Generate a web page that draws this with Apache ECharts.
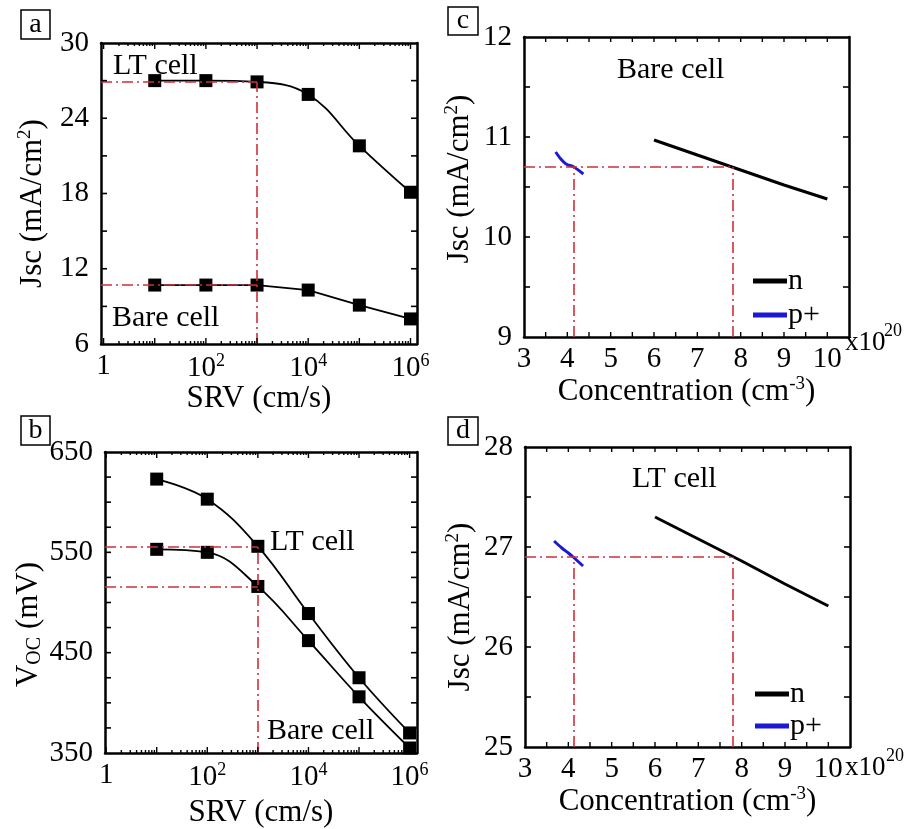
<!DOCTYPE html>
<html><head><meta charset="utf-8">
<script src="https://cdn.jsdelivr.net/npm/echarts@6/dist/echarts.min.js"></script>
<style>html,body{margin:0;padding:0;background:#fff}#c{width:917px;height:829px}</style>
</head><body><div id="c"></div>
<script>
// ---- data ----
const srv = [10, 100, 1000, 10000, 100000, 1000000];
const jscLT = [27.0, 27.0, 26.9, 25.9, 21.8, 18.1];
const jscBare = [10.7, 10.7, 10.7, 10.3, 9.1, 8.0];
const vocLT = [623, 603, 556, 489, 425, 370];
const vocBare = [553, 550, 516, 462, 406, 355];
const concN = [6, 7, 8, 9, 10];
const bareN = [10.97, 10.82, 10.67, 10.52, 10.38];
const concPc = [3.73, 3.85, 3.97, 4.15, 4.37];
const bareP = [10.85, 10.78, 10.73, 10.70, 10.63];
const ltN = [27.30, 27.08, 26.86, 26.63, 26.41];
const concPd = [3.67, 3.85, 4.0, 4.11, 4.34];
const ltP = [27.06, 26.99, 26.94, 26.90, 26.81];
const guideSRV = 1000;
const guideConcC = [4.15, 7.82];
const guideJscC = 10.7;
const guideConcD = [4.12, 7.79];
const guideJscD = 26.9;
const yTicksA = [6, 12, 18, 24, 30];
const yTicksB = [350, 450, 550, 650];

// ---- styling ----
const FF = '"Liberation Serif","Times New Roman",serif';
const RED = '#cf2f3a';
const guideStyle = {color: RED, width: 1.6, type: [11, 4, 2, 4]};
const zip = (xs, ys) => xs.map((x, i) => [x, ys[i]]);
const near = (a, b) => Math.abs(a - b) < 1e-6;

const gridsPx = [
  {left: 101, top: 43, width: 316, height: 301},
  {left: 105, top: 452, width: 312, height: 301},
  {left: 524, top: 37, width: 325, height: 300},
  {left: 525, top: 447, width: 325, height: 300}
];
const logMinA = 0.89, logMaxA = 1.34e6, logMinB = 0.95, logMaxB = 1.4e6;
// axis extents per panel: [xmin, xmax, ymin, ymax, yStep]
const ext = [
  [logMinA, logMaxA, 6, 30, 3],
  [logMinB, logMaxB, 350, 650, 25],
  [3, 10.5, 9, 12, 0.5],
  [3, 10.5, 25, 28, 0.5]
];

const richSup = {
  n: {fontSize: 29, fontFamily: FF, color: '#000'},
  sup: {fontSize: 18, fontFamily: FF, color: '#000', padding: [0, 0, 14, 0]}
};
function logLabel(v) {
  const e = Math.log10(v);
  if (!near(e, Math.round(e))) return '';
  const k = Math.round(e);
  if (k === 0) return '{n|1}';
  if (k % 2 !== 0) return '';
  return '{n|10}{sup|' + k + '}';
}
const mkLine = () => ({show: true, onZero: false, lineStyle: {color: '#000', width: 2.5}});
const noTick = () => ({show: false});
const lblBase = () => ({color: '#000', fontFamily: FF, fontSize: 29});
const nameStyle = (rich, padding) => ({fontFamily: FF, fontSize: 31, color: '#000', rich, padding});

function xLog(gi, min, max, name, nameGap) {
  return [
    {type: 'log', logBase: 10, gridIndex: gi, min, max, position: 'bottom',
     name, nameLocation: 'middle', nameGap, nameTextStyle: nameStyle(undefined, 0),
     axisLine: mkLine(), axisTick: noTick(), splitLine: {show: false},
     axisLabel: Object.assign(lblBase(), {margin: 8, formatter: logLabel, rich: richSup})},
    {type: 'log', logBase: 10, gridIndex: gi, min, max, position: 'top',
     axisLine: mkLine(), axisTick: noTick(), splitLine: {show: false}, axisLabel: {show: false}}
  ];
}
const concRich = {
  n: {fontFamily: FF, fontSize: 31, color: '#000'},
  sup: {fontFamily: FF, fontSize: 19, color: '#000', padding: [0, 0, 14, 0]}
};
function xLin(gi, name, nameGap) {
  return [
    {type: 'value', gridIndex: gi, min: 3, max: 10.5, interval: 0.5, position: 'bottom',
     name, nameLocation: 'middle', nameGap, nameTextStyle: nameStyle(concRich, 0),
     axisLine: mkLine(), axisTick: noTick(), splitLine: {show: false},
     axisLabel: Object.assign(lblBase(), {margin: 8,
       formatter: v => near(v, Math.round(v)) && v <= 10 ? String(Math.round(v)) : ''})},
    {type: 'value', gridIndex: gi, min: 3, max: 10.5, interval: 0.5, position: 'top',
     axisLine: mkLine(), axisTick: noTick(), splitLine: {show: false}, axisLabel: {show: false}}
  ];
}
function yLin(gi, min, max, interval, labelFn, name, nameGap, rich, padding) {
  return [
    {type: 'value', gridIndex: gi, min, max, interval, position: 'left',
     name, nameLocation: 'middle', nameGap, nameTextStyle: nameStyle(rich, padding),
     axisLine: mkLine(), axisTick: noTick(), splitLine: {show: false},
     axisLabel: Object.assign(lblBase(), {margin: 12, formatter: labelFn})},
    {type: 'value', gridIndex: gi, min, max, interval, position: 'right',
     axisLine: mkLine(), axisTick: noTick(), splitLine: {show: false}, axisLabel: {show: false}}
  ];
}
const jscRich = {
  n: {fontFamily: FF, fontSize: 31, color: '#000'},
  sup: {fontFamily: FF, fontSize: 19, color: '#000', padding: [0, 0, 14, 0]}
};
const vocRich = {
  n: {fontFamily: FF, fontSize: 31, color: '#000'},
  sub: {fontFamily: FF, fontSize: 20, color: '#000', padding: [12, 0, 0, 0]}
};
const jscName = '{n|Jsc (mA/cm}{sup|2}{n|)}';
const intLabel = v => near(v, Math.round(v)) ? String(Math.round(v)) : '';

const xAxes = [].concat(
  xLog(0, logMinA, logMaxA, 'SRV (cm/s)', 34),
  xLog(1, logMinB, logMaxB, 'SRV (cm/s)', 44),
  xLin(2, '{n|Concentration (cm}{sup|-3}{n|)}', 22),
  xLin(3, '{n|Concentration (cm}{sup|-3}{n|)}', 22)
);
const yAxes = [].concat(
  yLin(0, 6, 30, 3, v => yTicksA.includes(v) ? String(v) : '', jscName, 52, jscRich, [0, 20, 0, 0]),
  yLin(1, 350, 650, 25, v => yTicksB.includes(v) ? String(v) : '', '{n|V}{sub|OC}{n| (mV)}', 60, vocRich, [0, 44, 0, 0]),
  yLin(2, 9, 12, 0.5, intLabel, jscName, 48, jscRich, [0, 0, 0, 16]),
  yLin(3, 25, 28, 0.5, intLabel, jscName, 48, jscRich, [0, 20, 0, 0])
);

function seg(x1, y1, x2, y2) { return [{coord: [x1, y1]}, {coord: [x2, y2]}]; }
function guides(data) {
  return {silent: true, symbol: ['none', 'none'], label: {show: false}, lineStyle: guideStyle,
          emphasis: {disabled: true}, animation: false, data};
}
const gi = srv.indexOf(guideSRV);

function markerSeries(name, xi, data, smooth) {
  return {name, type: 'line', xAxisIndex: xi, yAxisIndex: xi, data, smooth,
    symbol: 'rect', symbolSize: 13, showSymbol: true,
    itemStyle: {color: '#000'}, lineStyle: {color: '#000', width: 1.8}, z: 3};
}
const series = [
  Object.assign(markerSeries('aLT', 0, zip(srv, jscLT), 0.4), {
    markLine: guides([
      seg(logMinA, jscLT[gi], guideSRV, jscLT[gi]),
      seg(guideSRV, 6, guideSRV, jscLT[gi]),
      seg(logMinA, jscBare[gi], guideSRV, jscBare[gi])
    ])}),
  markerSeries('aBare', 0, zip(srv, jscBare), false),
  Object.assign(markerSeries('bLT', 2, zip(srv, vocLT), 0.4), {
    markLine: guides([
      seg(logMinB, vocLT[gi], guideSRV, vocLT[gi]),
      seg(guideSRV, 350, guideSRV, vocLT[gi]),
      seg(logMinB, vocBare[gi], guideSRV, vocBare[gi])
    ])}),
  markerSeries('bBare', 2, zip(srv, vocBare), 0.4),
  {name: 'n', type: 'line', xAxisIndex: 4, yAxisIndex: 4, data: zip(concN, bareN), showSymbol: false,
   symbol: 'none', itemStyle: {color: '#000'}, lineStyle: {color: '#000', width: 3},
   markLine: guides([
     seg(3, guideJscC, guideConcC[1], guideJscC),
     seg(guideConcC[0], 9, guideConcC[0], guideJscC),
     seg(guideConcC[1], 9, guideConcC[1], guideJscC)
   ])},
  {name: 'p+', type: 'line', xAxisIndex: 4, yAxisIndex: 4, data: zip(concPc, bareP), smooth: 0.3, showSymbol: false,
   symbol: 'none', itemStyle: {color: '#1a1ad2'}, lineStyle: {color: '#1a1ad2', width: 3}},
  {name: 'n', type: 'line', xAxisIndex: 6, yAxisIndex: 6, data: zip(concN, ltN), showSymbol: false,
   symbol: 'none', itemStyle: {color: '#000'}, lineStyle: {color: '#000', width: 3},
   markLine: guides([
     seg(3, guideJscD, guideConcD[1], guideJscD),
     seg(guideConcD[0], 25, guideConcD[0], guideJscD),
     seg(guideConcD[1], 25, guideConcD[1], guideJscD)
   ])},
  {name: 'p+', type: 'line', xAxisIndex: 6, yAxisIndex: 6, data: zip(concPd, ltP), smooth: 0.3, showSymbol: false,
   symbol: 'none', itemStyle: {color: '#1a1ad2'}, lineStyle: {color: '#1a1ad2', width: 3}}
];

function txt(x, y, text, size) {
  return {type: 'text', x, y, silent: true,
    style: {text, font: size + 'px ' + FF, fill: '#000', textAlign: 'left', textVerticalAlign: 'middle'}};
}
function panelLabel(x, y, w, h, letter) {
  return [
    {type: 'rect', silent: true, shape: {x, y, width: w, height: h}, style: {fill: '#fff', stroke: '#000', lineWidth: 1.5}},
    {type: 'text', silent: true, x: x + w / 2, y: y + h / 2,
     style: {text: letter, font: '28px ' + FF, fill: '#000', textAlign: 'center', textVerticalAlign: 'middle'}}
  ];
}
const graphic = [].concat(
  panelLabel(21, 10, 29, 29, 'a'),
  panelLabel(21, 416, 29, 29, 'b'),
  panelLabel(448, 7, 30, 28, 'c'),
  panelLabel(448, 417, 30, 28, 'd'),
  [
    txt(113, 66, 'LT cell', 30),
    txt(112, 318, 'Bare cell', 30),
    txt(270, 542, 'LT cell', 30),
    txt(267, 731, 'Bare cell', 30),
    txt(617, 70, 'Bare cell', 30),
    txt(632, 479, 'LT cell', 30),
    txt(845, 343, 'x10', 27),
    txt(884, 331, '20', 18),
    txt(845, 768, 'x10', 27),
    txt(886, 756, '20', 18)
  ]
);

const legendBase = {orient: 'vertical', icon: 'rect', itemWidth: 34, itemHeight: 5, selectedMode: false,
  padding: 0, data: ['n', 'p+'], textStyle: {fontFamily: FF, fontSize: 30, color: '#000', padding: [0, 0, 0, -4]}};
const legend = [
  Object.assign({}, legendBase, {left: 753, top: 266, itemGap: 4}),
  Object.assign({}, legendBase, {left: 755, top: 679, itemGap: 2})
];

const chart = echarts.init(document.getElementById('c'), null, {renderer: 'canvas'});
chart.setOption({
  animation: false,
  backgroundColor: '#fff',
  grid: gridsPx,
  xAxis: xAxes,
  yAxis: yAxes,
  legend,
  series,
  graphic
});

// ---- inward tick marks on all four sides, positioned through the axes' own scales ----
const tickMarks = [];
function ln(x1, y1, x2, y2, w) {
  tickMarks.push({type: 'line', silent: true, z: 10,
    shape: {x1, y1, x2, y2}, style: {stroke: '#000', lineWidth: w}});
}
function range(a, b, step) { const r = []; for (let v = a; v <= b + 1e-9; v += step) r.push(+v.toFixed(6)); return r; }
ext.forEach((e, p) => {
  const xq = {xAxisIndex: 2 * p}, yq = {yAxisIndex: 2 * p};
  const L = chart.convertToPixel(xq, e[0]), R = chart.convertToPixel(xq, e[1]);
  const B = chart.convertToPixel(yq, e[2]), T = chart.convertToPixel(yq, e[3]);
  let xt;
  if (p < 2) {
    xt = [];
    for (let d = 0; d <= 6; d++) {
      xt.push([Math.pow(10, d), 6]);
      for (let k = 2; k <= 9; k++) { const v = k * Math.pow(10, d); if (v < e[1]) xt.push([v, 3]); }
    }
  } else {
    xt = range(e[0], e[1], 0.5).map(v => [v, 5]);
  }
  xt.forEach(([v, len]) => {
    const x = chart.convertToPixel(xq, v);
    if (x <= L + 1 || x >= R - 1) return;
    ln(x, B, x, B - len, 1.4);
    ln(x, T, x, T + len, 1.4);
  });
  range(e[2], e[3], e[4]).forEach(v => {
    const y = chart.convertToPixel(yq, v);
    if (y >= B - 1 || y <= T + 1) return;
    ln(L, y, L + 6, y, 1.6);
    ln(R, y, R - 6, y, 1.6);
  });
});
chart.setOption({graphic: graphic.concat(tickMarks)}, {replaceMerge: ['graphic']});
</script></body></html>
